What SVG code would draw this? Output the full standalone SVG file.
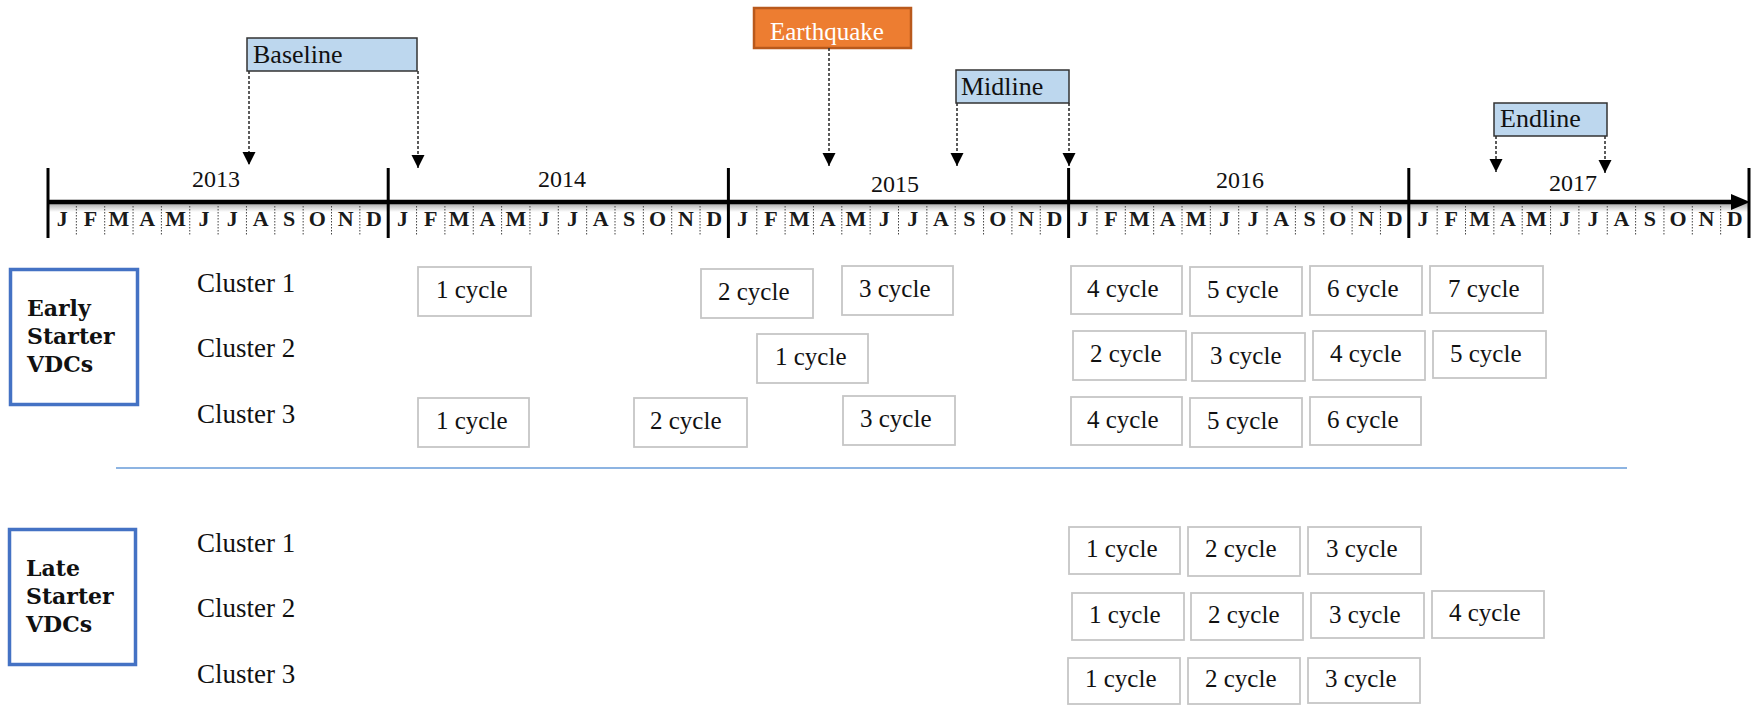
<svg xmlns="http://www.w3.org/2000/svg" width="1760" height="705" viewBox="0 0 1760 705">
<defs>
<style>
.callout{fill:#BDD7EE;stroke:#333;stroke-width:1.5}
.callout-t{font-family:"Liberation Serif","Times New Roman",serif;font-size:26px;fill:#111}
.cyc rect{fill:#fff;stroke:#C6C6C6;stroke-width:1.8}
.cyc text{font-family:"Liberation Serif","Times New Roman",serif;font-size:25px;fill:#111}
.grp rect{fill:#fff;stroke:#4472C4;stroke-width:3.5}
.grp text{font-family:"DejaVu Serif",Georgia,serif;font-size:22px;font-weight:bold;fill:#111}
.cl{font-family:"Liberation Serif","Times New Roman",serif;font-size:27px;fill:#111}
.yr{font-family:"Liberation Serif","Times New Roman",serif;font-size:24px;fill:#111;text-anchor:middle}
.mo{font-family:"Liberation Serif","Times New Roman",serif;font-size:22px;font-weight:bold;fill:#1a1a1a;text-anchor:middle}
.tick{stroke:#000;stroke-width:3}
.dash{fill:none;stroke:#333;stroke-width:1.6;stroke-dasharray:3 2}
</style>
<marker id="ah" markerUnits="userSpaceOnUse" markerWidth="14" markerHeight="14" refX="13" refY="6.5" orient="auto">
<path d="M0,0 L13,6.5 L0,13 z" fill="#000"/>
</marker>
<linearGradient id="shade" x1="0" y1="0" x2="0" y2="1">
<stop offset="0" stop-color="#a8a8a8"/>
<stop offset="1" stop-color="#ffffff"/>
</linearGradient>
</defs>
<rect width="1760" height="705" fill="#fff"/>

<!-- Timeline -->
<g id="timeline">
<rect x="48" y="203" width="1700" height="9" fill="url(#shade)"/>
<path d="M76.35,206V235M104.7,206V235M133.05,206V235M161.4,206V235M189.75,206V235M218.1,206V235M246.45,206V235M274.8,206V235M303.15,206V235M331.5,206V235M359.85,206V235M416.55,206V235M444.9,206V235M473.25,206V235M501.6,206V235M529.95,206V235M558.3,206V235M586.65,206V235M615,206V235M643.35,206V235M671.7,206V235M700.05,206V235M756.75,206V235M785.1,206V235M813.45,206V235M841.8,206V235M870.15,206V235M898.5,206V235M926.85,206V235M955.2,206V235M983.55,206V235M1011.9,206V235M1040.25,206V235M1096.95,206V235M1125.3,206V235M1153.65,206V235M1182,206V235M1210.35,206V235M1238.7,206V235M1267.05,206V235M1295.4,206V235M1323.75,206V235M1352.1,206V235M1380.45,206V235M1437.15,206V235M1465.5,206V235M1493.85,206V235M1522.2,206V235M1550.55,206V235M1578.9,206V235M1607.25,206V235M1635.6,206V235M1663.95,206V235M1692.3,206V235M1720.65,206V235" stroke="#444" stroke-width="1" stroke-dasharray="1.5 1.5" fill="none"/>
<line x1="48" y1="202" x2="1735" y2="202" stroke="#000" stroke-width="4.5"/>
<polygon points="1731,194 1750,202 1731,210" fill="#000"/>
<line class="tick" x1="48" y1="168" x2="48" y2="238"/>
<line class="tick" x1="388.2" y1="168" x2="388.2" y2="238"/>
<line class="tick" x1="728.4" y1="168" x2="728.4" y2="238"/>
<line class="tick" x1="1068.6" y1="168" x2="1068.6" y2="238"/>
<line class="tick" x1="1408.8" y1="168" x2="1408.8" y2="238"/>
<line class="tick" x1="1749" y1="168" x2="1749" y2="238"/>
<text class="yr" x="216" y="187">2013</text>
<text class="yr" x="562" y="187">2014</text>
<text class="yr" x="895" y="192">2015</text>
<text class="yr" x="1240" y="188">2016</text>
<text class="yr" x="1573" y="191">2017</text>
<text class="mo" x="62.2 90.5 118.9 147.2 175.6 203.9 232.3 260.6 289 317.3 345.7 374" y="226">JFMAMJJASOND</text>
<text class="mo" x="402.4 430.7 459.1 487.4 515.8 544.1 572.5 600.8 629.2 657.5 685.9 714.2" y="226">JFMAMJJASOND</text>
<text class="mo" x="742.6 770.9 799.3 827.6 856 884.3 912.7 941 969.4 997.7 1026.1 1054.4" y="226">JFMAMJJASOND</text>
<text class="mo" x="1082.8 1111.1 1139.5 1167.8 1196.2 1224.5 1252.9 1281.2 1309.6 1337.9 1366.3 1394.6" y="226">JFMAMJJASOND</text>
<text class="mo" x="1423 1451.3 1479.7 1508 1536.4 1564.7 1593.1 1621.4 1649.8 1678.1 1706.5 1734.8" y="226">JFMAMJJASOND</text>
</g>

<!-- Event callouts -->
<g id="baseline"><rect class="callout" x="247" y="38" width="170" height="33"/><text class="callout-t" x="253" y="63">Baseline</text></g>
<g id="earthquake"><rect x="754" y="8" width="157" height="40" fill="#ED7D31" stroke="#B9591C" stroke-width="2.5"/><text x="770" y="39.5" font-family="Liberation Serif, Times New Roman, serif" font-size="25" fill="#fff">Earthquake</text></g>
<g id="midline"><rect class="callout" x="956" y="70" width="113" height="33"/><text class="callout-t" x="961" y="95">Midline</text></g>
<g id="endline"><rect class="callout" x="1494" y="103" width="113" height="33"/><text class="callout-t" x="1500" y="127">Endline</text></g>

<!-- Connectors -->
<g id="connectors">
<path class="dash" d="M249,71V165" marker-end="url(#ah)"/>
<path class="dash" d="M418,71V168" marker-end="url(#ah)"/>
<path class="dash" d="M829,48V166" marker-end="url(#ah)"/>
<path class="dash" d="M957,103V166" marker-end="url(#ah)"/>
<path class="dash" d="M1069,103V166" marker-end="url(#ah)"/>
<path class="dash" d="M1496,136V172" marker-end="url(#ah)"/>
<path class="dash" d="M1605,136V173" marker-end="url(#ah)"/>
</g>

<!-- Groups -->
<g id="early-starter" class="grp"><rect x="10.5" y="269.5" width="127" height="135"/><text x="27" y="316">Early</text><text x="27" y="344">Starter</text><text x="27" y="372">VDCs</text></g>
<g id="late-starter" class="grp"><rect x="9.5" y="529.5" width="126" height="135"/><text x="26" y="576">Late</text><text x="26" y="604">Starter</text><text x="26" y="632">VDCs</text></g>

<g id="cluster-labels">
<text class="cl" x="197" y="292">Cluster 1</text>
<text class="cl" x="197" y="357">Cluster 2</text>
<text class="cl" x="197" y="423">Cluster 3</text>
<text class="cl" x="197" y="552">Cluster 1</text>
<text class="cl" x="197" y="617">Cluster 2</text>
<text class="cl" x="197" y="683">Cluster 3</text>
</g>

<line id="separator" x1="116" y1="468" x2="1627" y2="468" stroke="#8DB4E2" stroke-width="1.8"/>

<!-- Early starter cycles -->
<g id="e1-1" class="cyc"><rect x="418" y="267" width="113" height="49"/><text x="436" y="298">1 cycle</text></g>
<g id="e1-2" class="cyc"><rect x="701" y="269" width="112" height="49"/><text x="718" y="300">2 cycle</text></g>
<g id="e1-3" class="cyc"><rect x="842" y="266" width="111" height="49"/><text x="859" y="297">3 cycle</text></g>
<g id="e1-4" class="cyc"><rect x="1071" y="266" width="111" height="48"/><text x="1087" y="297">4 cycle</text></g>
<g id="e1-5" class="cyc"><rect x="1190" y="267" width="112" height="49"/><text x="1207" y="298">5 cycle</text></g>
<g id="e1-6" class="cyc"><rect x="1310" y="266" width="112" height="49"/><text x="1327" y="297">6 cycle</text></g>
<g id="e1-7" class="cyc"><rect x="1430" y="266" width="113" height="47"/><text x="1448" y="297">7 cycle</text></g>

<g id="e2-1" class="cyc"><rect x="757" y="334" width="111" height="49"/><text x="775" y="365">1 cycle</text></g>
<g id="e2-2" class="cyc"><rect x="1073" y="331" width="113" height="49"/><text x="1090" y="362">2 cycle</text></g>
<g id="e2-3" class="cyc"><rect x="1192" y="333" width="113" height="48"/><text x="1210" y="364">3 cycle</text></g>
<g id="e2-4" class="cyc"><rect x="1313" y="331" width="112" height="49"/><text x="1330" y="362">4 cycle</text></g>
<g id="e2-5" class="cyc"><rect x="1433" y="331" width="113" height="47"/><text x="1450" y="362">5 cycle</text></g>

<g id="e3-1" class="cyc"><rect x="418" y="398" width="111" height="49"/><text x="436" y="429">1 cycle</text></g>
<g id="e3-2" class="cyc"><rect x="634" y="398" width="113" height="49"/><text x="650" y="429">2 cycle</text></g>
<g id="e3-3" class="cyc"><rect x="843" y="396" width="112" height="49"/><text x="860" y="427">3 cycle</text></g>
<g id="e3-4" class="cyc"><rect x="1071" y="397" width="111" height="48"/><text x="1087" y="428">4 cycle</text></g>
<g id="e3-5" class="cyc"><rect x="1190" y="398" width="112" height="49"/><text x="1207" y="429">5 cycle</text></g>
<g id="e3-6" class="cyc"><rect x="1310" y="397" width="111" height="48"/><text x="1327" y="428">6 cycle</text></g>

<!-- Late starter cycles -->
<g id="l1-1" class="cyc"><rect x="1069" y="527" width="111" height="47"/><text x="1086" y="557">1 cycle</text></g>
<g id="l1-2" class="cyc"><rect x="1188" y="527" width="112" height="49"/><text x="1205" y="557">2 cycle</text></g>
<g id="l1-3" class="cyc"><rect x="1308" y="527" width="113" height="47"/><text x="1326" y="557">3 cycle</text></g>

<g id="l2-1" class="cyc"><rect x="1072" y="593" width="112" height="47"/><text x="1089" y="623">1 cycle</text></g>
<g id="l2-2" class="cyc"><rect x="1191" y="593" width="112" height="47"/><text x="1208" y="623">2 cycle</text></g>
<g id="l2-3" class="cyc"><rect x="1311" y="593" width="113" height="45"/><text x="1329" y="623">3 cycle</text></g>
<g id="l2-4" class="cyc"><rect x="1432" y="591" width="112" height="47"/><text x="1449" y="621">4 cycle</text></g>

<g id="l3-1" class="cyc"><rect x="1068" y="658" width="112" height="46"/><text x="1085" y="687">1 cycle</text></g>
<g id="l3-2" class="cyc"><rect x="1188" y="658" width="112" height="46"/><text x="1205" y="687">2 cycle</text></g>
<g id="l3-3" class="cyc"><rect x="1308" y="658" width="112" height="45"/><text x="1325" y="687">3 cycle</text></g>
</svg>
